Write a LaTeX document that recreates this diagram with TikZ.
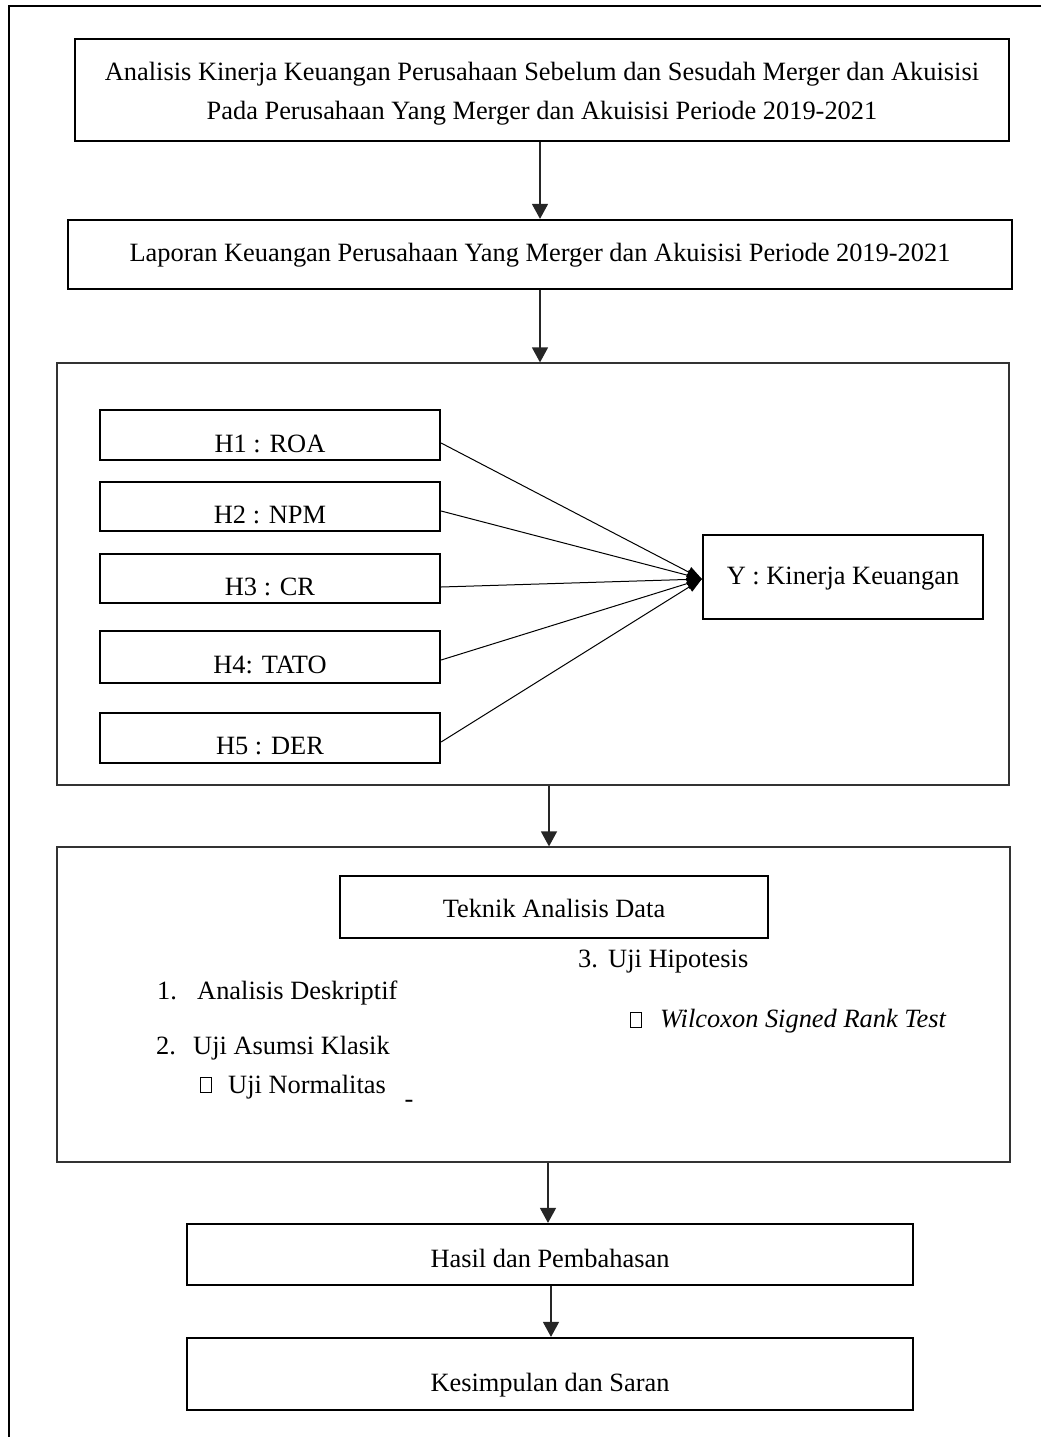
\documentclass[tikz,border=0pt]{standalone}
\usepackage{fontspec}
\setmainfont{Liberation Serif}
\usetikzlibrary{arrows.meta}
\begin{document}
\begin{tikzpicture}[x=1pt,y=-1pt,
  fbox/.style={draw=black,line width=2.2pt,rectangle,inner sep=0pt},
  bigbox/.style={draw=black!80,line width=1.2pt,rectangle,inner sep=0pt},
  txt/.style={inner sep=0pt,anchor=base,font=\fontsize{26.4}{32}\selectfont},
  txtw/.style={inner sep=0pt,anchor=base west,font=\fontsize{26.4}{32}\selectfont},
  flow/.style={draw=black!85,line width=1.4pt,-{Triangle[width=16pt,length=15pt]}},
  conv/.style={draw=black,line width=1pt,-{Triangle[width=11pt,length=15pt]}},
  sq/.style={draw=black,line width=0.9pt,rectangle,inner sep=0pt,minimum width=11pt,minimum height=15pt}
]
\useasboundingbox (0,0) rectangle (1041,1437);
% outer frame (top and left only)
\draw[line width=1.5pt] (1041,6) -- (9,6) -- (9,1437);

% box 1
\node[fbox,minimum width=934pt,minimum height=102pt] (b1) at (542,90) {};
\node[txt] (b1a) at (542,81) {Analisis Kinerja Keuangan Perusahaan Sebelum dan Sesudah Merger dan Akuisisi};
\node[txt] (b1b) at (542,119) {Pada Perusahaan Yang Merger dan Akuisisi Periode 2019-2021};

% box 2
\node[fbox,minimum width=944pt,minimum height=69pt] (b2) at (540,254.5) {};
\node[txt] (b2t) at (540,261) {Laporan Keuangan Perusahaan Yang Merger dan Akuisisi Periode 2019-2021};

% box 3
\node[bigbox,minimum width=952pt,minimum height=422pt] (b3) at (533,574) {};
\node[fbox,minimum width=340pt,minimum height=50pt] (h1) at (270,435) {};
\node[txt] (h1t) at (270,452) {H1 : ROA};
\node[fbox,minimum width=340pt,minimum height=49pt] (h2) at (270,506.5) {};
\node[txt] (h2t) at (270,523) {H2 : NPM};
\node[fbox,minimum width=340pt,minimum height=49pt] (h3) at (270,578.5) {};
\node[txt] (h3t) at (270,595) {H3 : CR};
\node[fbox,minimum width=340pt,minimum height=52pt] (h4) at (270,657) {};
\node[txt] (h4t) at (270,673) {H4: TATO};
\node[fbox,minimum width=340pt,minimum height=50pt] (h5) at (270,738) {};
\node[txt] (h5t) at (270,754) {H5 : DER};
\node[fbox,minimum width=280pt,minimum height=84pt] (y) at (843,577) {};
\node[txt] (yt) at (843,584) {Y : Kinerja Keuangan};

\draw[conv] ([yshift=-8pt]h1.east) -- ([yshift=-2pt]y.west);
\draw[conv] ([yshift=-4.5pt]h2.east) -- ([yshift=-2pt]y.west);
\draw[conv] ([yshift=-8.5pt]h3.east) -- ([yshift=-2pt]y.west);
\draw[conv] ([yshift=-3pt]h4.east) -- ([yshift=-2pt]y.west);
\draw[conv] ([yshift=-4pt]h5.east) -- ([yshift=-2pt]y.west);

% box 4
\node[bigbox,minimum width=953pt,minimum height=315pt] (b4) at (533.5,1004.5) {};
\node[fbox,minimum width=428pt,minimum height=62pt] (tk) at (554,907) {};
\node[txt] (tkt) at (554,917) {Teknik Analisis Data};
\node[txtw] (n1) at (157,999) {1.};
\node[txtw] (l1) at (197,999) {Analisis Deskriptif};
\node[txtw] (n2) at (156,1054) {2.};
\node[txtw] (l2) at (193,1054) {Uji Asumsi Klasik};
\node[sq] (q1) at (205.5,1085) {};
\node[txtw] (l2a) at (228,1093) {Uji Normalitas};
\node[txt] (dash) at (409,1107) {-};
\node[txtw] (n3) at (578,967) {3.};
\node[txtw] (l3) at (608,967) {Uji Hipotesis};
\node[sq] (q2) at (635.5,1020) {};
\node[txtw] (l3a) at (660,1027) {\itshape Wilcoxon Signed Rank Test};

% bottom boxes
\node[fbox,minimum width=726pt,minimum height=61pt] (hs) at (550,1254.5) {};
\node[txt] (hst) at (550,1267) {Hasil dan Pembahasan};
\node[fbox,minimum width=726pt,minimum height=72pt] (ks) at (550,1374) {};
\node[txt] (kst) at (550,1391) {Kesimpulan dan Saran};

% flow arrows
\draw[flow] (b1.south -| 540,0) -- (b2.north -| 540,0);
\draw[flow] (b2.south -| 540,0) -- (b3.north -| 540,0);
\draw[flow] (b3.south -| 549,0) -- (b4.north -| 549,0);
\draw[flow] (b4.south -| 548,0) -- (hs.north -| 548,0);
\draw[flow] (hs.south -| 551,0) -- (ks.north -| 551,0);
\end{tikzpicture}
\end{document}
